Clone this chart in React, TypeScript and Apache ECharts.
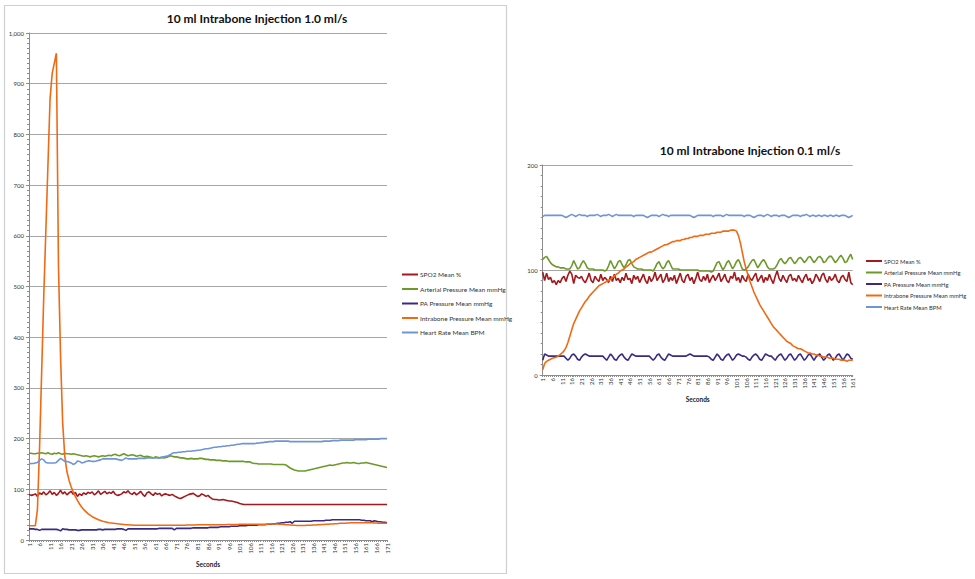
import React, { useEffect, useRef } from "react";
import * as echarts from "echarts";

const SERIES_NAMES = [
  "SPO2 Mean %",
  "Arterial Pressure Mean mmHg",
  "PA Pressure Mean mmHg",
  "Intrabone Pressure Mean mmHg",
  "Heart Rate Mean BPM",
];
const COLORS = ["#A3191E", "#6C9A2A", "#3A2A85", "#F06A13", "#6F95D8"];

const LEFT_TITLE = "10 ml Intrabone Injection 1.0 ml/s";
const RIGHT_TITLE = "10 ml Intrabone Injection 0.1 ml/s";
const X_NAME = "Seconds";

const LEFT_CATS = Array.from({ length: 171 }, (_, i) => String(i + 1));
const RIGHT_CATS = Array.from({ length: 161 }, (_, i) => String(i + 1));

const LEFT_Y = { min: 0, max: 1000, interval: 100 };
const RIGHT_Y = { min: 0, max: 200, interval: 100 };

// ---- Left chart (1.0 ml/s), 171 seconds ----
const L_SPO2 = [
  90, 88, 89, 91, 86, 93, 90, 95, 89, 92,
  97, 90, 94, 88, 92, 98, 91, 95, 89, 93,
  96, 90, 94, 86, 91, 88, 93, 90, 94, 92,
  95, 89, 92, 97, 90, 93, 96, 91, 94, 92,
  96, 90, 88, 89, 91, 95, 93, 97, 92, 90,
  94, 89, 92, 96, 90, 86, 93, 95, 91, 88,
  93, 90, 92, 87, 90, 91, 89, 88, 90, 87,
  85, 83, 82, 84, 86, 88, 90, 91, 92, 89,
  86, 87, 91, 89, 86, 88, 84, 81, 80, 80,
  79, 79, 80, 79, 78, 77, 77, 76, 75, 74,
  72, 71, 70, 70, 70, 70, 70, 70, 70, 70,
  70, 70, 70, 70, 70, 70, 70, 70, 70, 70,
  70, 70, 70, 70, 70, 70, 70, 70, 70, 70,
  70, 70, 70, 70, 70, 70, 70, 70, 70, 70,
  70, 70, 70, 70, 70, 70, 70, 70, 70, 70,
  70, 70, 70, 70, 70, 70, 70, 70, 70, 70,
  70, 70, 70, 70, 70, 70, 70, 70, 70, 70, 70,
];

const L_ART = [
  171, 171, 170, 170, 171, 171, 172, 171, 170, 172,
  170, 169, 171, 170, 172, 170, 169, 171, 170, 170,
  169, 170, 169, 168, 167, 166, 165, 166, 165, 164,
  165, 166, 165, 164, 165, 166, 165, 166, 167, 166,
  168, 169, 167, 166, 168, 170, 168, 166, 167, 168,
  167, 165, 166, 167, 165, 164, 165, 164, 163, 162,
  164, 163, 162, 163, 162, 163, 164, 166, 165, 164,
  164, 163, 162, 162, 161, 160, 160, 161, 160, 160,
  160, 161, 161, 160, 159, 159, 158, 158, 158, 157,
  157, 157, 156, 156, 156, 155, 155, 155, 155, 155,
  155, 155, 155, 154, 154, 154, 152, 151, 151, 150,
  150, 150, 150, 150, 150, 150, 149, 149, 149, 149,
  149, 149, 148, 145, 142, 140, 138, 137, 136, 136,
  136, 136, 137, 138, 139, 140, 141, 142, 143, 144,
  145, 146, 147, 148, 147, 148, 149, 150, 151, 152,
  152, 153, 152, 152, 153, 152, 151, 151, 152, 152,
  153, 152, 151, 150, 149, 148, 147, 146, 145, 144, 143,
];

const L_PA = [
  22, 22, 22, 21, 21, 19, 21, 21, 21, 21,
  21, 21, 21, 21, 20, 18, 22, 21, 21, 20,
  20, 20, 20, 19, 19, 20, 20, 20, 20, 20,
  20, 20, 20, 21, 21, 20, 21, 21, 21, 21,
  21, 21, 22, 22, 22, 21, 19, 22, 22, 22,
  22, 22, 22, 22, 22, 22, 22, 22, 22, 22,
  22, 22, 23, 23, 23, 23, 23, 23, 23, 20,
  23, 23, 23, 23, 23, 23, 23, 23, 24, 24,
  24, 24, 24, 24, 24, 24, 25, 25, 25, 25,
  25, 26, 26, 26, 26, 26, 27, 27, 27, 27,
  28, 28, 28, 28, 29, 29, 29, 29, 29, 30,
  30, 30, 30, 31, 31, 31, 32, 32, 33, 33,
  34, 34, 35, 35, 36, 33, 37, 37, 37, 37,
  37, 37, 37, 37, 37, 38, 38, 38, 38, 38,
  38, 39, 39, 39, 40, 40, 40, 40, 40, 40,
  40, 40, 40, 40, 40, 40, 40, 40, 39, 39,
  38, 38, 38, 36, 38, 37, 36, 36, 35, 35, 34,
];

const L_IB = [
  28, 28, 28, 28, 60, 180, 330, 480, 610, 740,
  870, 920, 940, 960, 540, 360, 230, 165, 135, 118,
  105, 95, 86, 78, 71, 65, 60, 56, 52, 49,
  46, 44, 42, 40, 38.5, 37, 36, 35, 34, 33.5,
  33, 32.5, 32, 31.5, 31, 30.5, 30, 30, 29.5, 29.5,
  29, 29, 29, 29, 29, 29, 29, 29, 29, 29,
  29, 29, 29, 29, 29, 29, 29, 29, 29, 29,
  29, 29, 29, 29, 29, 29.5, 29.5, 29.5, 29.5, 29.5,
  30, 30, 30, 30, 30, 30, 30, 30, 30, 30,
  30, 30, 30, 30, 30.5, 30.5, 30.5, 30.5, 30.5, 30.5,
  31, 31, 31, 31, 31, 31, 31, 31, 31, 31,
  31, 31, 31, 31, 31.5, 31.5, 31.5, 31.5, 31.5, 31,
  31, 30.5, 30, 30, 29.5, 29, 29, 28.5, 28.5, 28.5,
  28.5, 28.5, 29, 29, 29, 29.5, 29.5, 30, 30, 30.5,
  30.5, 31, 31, 31.5, 31.5, 32, 32, 32.5, 33, 33,
  33, 33.5, 33.5, 34, 34, 34, 34, 34, 34, 34,
  34, 34, 34, 34, 33.5, 33.5, 33, 33, 33, 33, 33,
];

const L_HR = [
  150, 151, 151, 152, 153, 157, 160, 158, 153, 152,
  152, 152, 152, 153, 157, 161, 158, 155, 155, 154,
  152, 149, 151, 156, 155, 152, 153, 155, 156, 156,
  155, 155, 156, 157, 158, 160, 160, 160, 160, 160,
  160, 160, 159, 158, 157, 159, 162, 160, 160, 160,
  160, 160, 161, 161, 161, 161, 162, 162, 162, 162,
  162, 162, 162, 163, 164, 165, 166, 168, 171, 172,
  172, 173, 173, 174, 174, 175, 175, 175, 176, 176,
  177, 177, 178, 179, 180, 180, 181, 182, 183, 183,
  184, 184, 185, 185, 186, 186, 187, 187, 188, 189,
  189, 190, 190, 190, 190, 190, 190, 190, 191, 191,
  192, 192, 193, 193, 194, 194, 194, 195, 195, 195,
  195, 195, 195, 195, 194, 194, 194, 194, 194, 194,
  194, 194, 194, 194, 194, 194, 194, 194, 194, 194,
  195, 195, 195, 195, 196, 196, 196, 196, 197, 197,
  197, 197, 197, 197, 197, 198, 198, 198, 198, 198,
  198, 199, 199, 199, 199, 199, 199, 200, 200, 200, 200,
];

// ---- Right chart (0.1 ml/s), 161 seconds ----
const R_SPO2 = [
  98, 90, 97, 91, 93, 88, 90, 86, 90, 88,
  92, 94, 89, 95, 99, 96, 87, 95, 93, 92,
  94, 90, 88, 92, 97, 90, 88, 94, 91, 89,
  96, 90, 93, 91, 88, 94, 89, 96, 90, 92,
  88, 93, 90, 97, 91, 92, 87, 95, 91, 94,
  88, 92, 96, 90, 87, 94, 89, 92, 98, 90,
  93, 96, 88, 91, 97, 89, 93, 90, 95, 87,
  92, 97, 90, 88, 94, 96, 90, 93, 87, 92,
  98, 91, 89, 94, 90, 96, 88, 92, 95, 90,
  93, 97, 89, 92, 96, 90, 88, 94, 92, 98,
  90, 93, 88, 95, 91, 89, 96, 92, 90, 94,
  97, 89, 92, 95, 88, 93, 90, 96, 91, 87,
  94, 99, 92, 89, 95, 91, 88, 94, 96, 90,
  92, 89, 95, 91, 88, 93, 96, 90, 92, 87,
  90, 96, 93, 89, 95, 97, 91, 88, 94, 90,
  92, 96, 90, 88, 93, 95, 91, 89, 98, 88,
  86,
];

const R_ART = [
  110, 112, 113, 110, 107, 105, 104, 103, 103, 102,
  102, 102, 101, 101, 101, 104, 109, 105, 101, 102,
  106, 109, 106, 102, 101, 101, 101, 100, 100, 100,
  100, 100, 99, 100, 104, 109, 105, 101, 104, 108,
  109, 105, 102, 105, 109, 110, 106, 103, 102, 101,
  101, 101, 100, 100, 100, 100, 100, 99, 102, 106,
  108, 104, 101, 103, 107, 109, 105, 101, 101, 101,
  101, 100, 100, 100, 100, 100, 100, 100, 100, 100,
  100, 99, 99, 99, 99, 99, 99, 98, 99, 103,
  107, 108, 104, 100, 103, 107, 109, 105, 101, 104,
  108, 110, 106, 101, 100, 101, 103, 106, 109, 110,
  106, 102, 105, 108, 110, 107, 103, 101, 101, 101,
  102, 105, 109, 111, 108, 106, 108, 111, 112, 109,
  106, 108, 111, 112, 110, 107, 109, 112, 113, 110,
  107, 109, 112, 113, 111, 107, 108, 111, 113, 113,
  110, 107, 109, 112, 114, 111, 107, 108, 112, 115,
  110,
];

const R_PA = [
  14, 20, 19, 18, 18, 18, 18, 18, 18, 18,
  18, 18, 16, 14, 16, 19, 20, 18, 15, 14,
  17, 19, 20, 19, 18, 18, 18, 18, 18, 18,
  18, 18, 16, 14, 17, 20, 18, 15, 14, 17,
  19, 20, 17, 15, 14, 17, 20, 19, 18, 18,
  18, 18, 18, 18, 18, 18, 16, 14, 16, 19,
  20, 17, 15, 14, 17, 20, 19, 18, 18, 18,
  18, 18, 18, 18, 18, 19, 20, 19, 18, 18,
  18, 18, 18, 18, 18, 18, 17, 15, 14, 17,
  20, 18, 15, 14, 17, 19, 20, 17, 14, 16,
  19, 20, 19, 18, 18, 17, 15, 14, 17, 19,
  20, 18, 15, 14, 17, 20, 19, 18, 18, 16,
  14, 17, 19, 20, 17, 14, 16, 19, 20, 17,
  14, 16, 19, 20, 17, 14, 16, 19, 20, 17,
  14, 17, 19, 20, 17, 14, 16, 19, 20, 17,
  14, 16, 19, 20, 17, 14, 17, 20, 19, 16,
  15,
];

const R_IB = [
  5, 11, 13, 14, 15, 16, 16.5, 17, 18, 19.5,
  21, 23, 26, 31, 37, 43, 49, 53, 57, 61,
  64, 67, 70, 72, 75, 77, 79, 81, 83, 85,
  86, 87, 88, 89, 90, 91, 93, 94, 96, 97,
  99, 100, 101, 103, 104, 106, 107, 108, 110, 111,
  112, 113, 114, 115, 116, 117, 117, 118, 119, 120,
  121, 122, 123, 124, 124, 125, 126, 127, 127, 128,
  128, 128, 129, 129, 130, 130, 131, 131, 132, 132,
  132, 133, 133, 133, 134, 134, 134, 135, 135, 135,
  136, 136, 136, 137, 137, 137, 137, 138, 138, 138,
  137, 133, 126, 117, 108, 101, 95, 89, 84, 79,
  75, 71, 67, 64, 61, 58, 55, 52, 49, 46,
  44, 42, 40, 38, 36, 34, 32, 31, 30, 28,
  27, 26, 25, 25, 24, 23, 22, 21, 21, 20,
  20, 19, 19, 18, 18, 17, 17, 17, 16, 16,
  16, 15, 15, 15, 14, 14, 14, 13, 14, 14,
  14,
];

const R_HR = [
  151, 152, 152, 152, 152, 152, 152, 152, 152, 152,
  152, 151, 150, 151, 152, 153, 152, 151, 152, 153,
  152, 152, 152, 151, 152, 152, 152, 152, 153, 152,
  151, 152, 152, 152, 153, 152, 151, 152, 153, 152,
  152, 152, 152, 152, 152, 152, 152, 151, 152, 152,
  152, 152, 152, 151, 150, 151, 152, 152, 152, 152,
  151, 152, 153, 152, 152, 151, 152, 152, 152, 152,
  152, 152, 152, 152, 152, 152, 152, 151, 150, 151,
  152, 152, 152, 152, 152, 152, 152, 152, 151, 152,
  152, 152, 152, 151, 152, 153, 152, 152, 152, 152,
  152, 152, 152, 152, 151, 152, 152, 152, 151, 150,
  151, 152, 152, 152, 151, 152, 153, 152, 151, 152,
  152, 152, 151, 152, 152, 152, 151, 150, 151, 152,
  152, 152, 152, 151, 152, 152, 153, 152, 151, 152,
  152, 151, 152, 152, 151, 152, 152, 151, 152, 152,
  151, 152, 152, 151, 152, 152, 152, 151, 150, 151,
  152,
];

const LEFT_DATA = [L_SPO2, L_ART, L_PA, L_IB, L_HR];
const RIGHT_DATA = [R_SPO2, R_ART, R_PA, R_IB, R_HR];

const FONT = "Lato, 'Open Sans', sans-serif";
const AXIS_COLOR = "#8c8c8c";
const GRID_COLOR = "#a6a6a6";
const LABEL_COLOR = "#333";

function xAxisFor(gridIndex: number, cats: string[], nameGap: number) {
  return {
    type: "category",
    gridIndex,
    data: cats,
    boundaryGap: false,
    name: X_NAME,
    nameLocation: "middle",
    nameGap,
    nameTextStyle: { fontFamily: FONT, fontSize: 6.5, fontWeight: "bold", color: "#222" },
    axisLine: { show: true, lineStyle: { color: AXIS_COLOR, width: 1 } },
    axisTick: { show: true, interval: 0, length: 2, lineStyle: { color: AXIS_COLOR } },
    axisLabel: {
      interval: 4,
      rotate: 90,
      fontSize: 6,
      fontFamily: FONT,
      color: LABEL_COLOR,
      margin: 3,
    },
    splitLine: { show: false },
  };
}

function yAxisFor(gridIndex: number, cfg: { min: number; max: number; interval: number }) {
  return {
    type: "value",
    gridIndex,
    min: cfg.min,
    max: cfg.max,
    interval: cfg.interval,
    axisLine: { show: true, lineStyle: { color: AXIS_COLOR, width: 1 } },
    axisTick: { show: true, length: 3, lineStyle: { color: AXIS_COLOR } },
    minorTick: { show: true, splitNumber: 10, length: 2, lineStyle: { color: AXIS_COLOR } },
    minorSplitLine: { show: false },
    axisLabel: { fontSize: 6, fontFamily: FONT, color: LABEL_COLOR, margin: 5 },
    splitLine: { show: true, lineStyle: { color: GRID_COLOR, width: 1 } },
  };
}

function legendFor(left: number, top: number, itemGap: number, fontSize: number) {
  return {
    orient: "vertical",
    left,
    top,
    itemWidth: 16,
    itemHeight: 2,
    itemGap,
    icon: "rect",
    data: SERIES_NAMES,
    textStyle: { fontSize, fontFamily: FONT, color: "#333", padding: [0, 0, 0, -3] },
    selectedMode: false,
  };
}

export default function App() {
  const ref = useRef<HTMLDivElement>(null);

  useEffect(() => {
    if (!ref.current) return;
    const chart = echarts.init(ref.current, undefined, { renderer: "svg" });

    const series: any[] = [];
    SERIES_NAMES.forEach((name, i) => {
      series.push({
        name,
        type: "line",
        xAxisIndex: 0,
        yAxisIndex: 0,
        data: LEFT_DATA[i],
        symbol: "none",
        lineStyle: { color: COLORS[i], width: 1.6 },
        itemStyle: { color: COLORS[i] },
      });
    });
    SERIES_NAMES.forEach((name, i) => {
      series.push({
        name,
        type: "line",
        xAxisIndex: 1,
        yAxisIndex: 1,
        data: RIGHT_DATA[i],
        symbol: "none",
        lineStyle: { color: COLORS[i], width: 1.6 },
        itemStyle: { color: COLORS[i] },
      });
    });

    chart.setOption({
      animation: false,
      backgroundColor: "#ffffff",
      textStyle: { fontFamily: FONT },
      graphic: [
        {
          type: "rect",
          shape: { x: 4.5, y: 5.5, width: 502, height: 568 },
          style: { fill: "none", stroke: "#cfcfcf", lineWidth: 1.2 },
          silent: true,
          z: -10,
        },
        {
          type: "text",
          x: 257,
          y: 18,
          style: {
            text: LEFT_TITLE,
            font: `bold 12px ${FONT}`,
            fill: "#111",
            textAlign: "center",
            textVerticalAlign: "middle",
          },
        },
        {
          type: "text",
          x: 750,
          y: 150,
          style: {
            text: RIGHT_TITLE,
            font: `bold 12px ${FONT}`,
            fill: "#111",
            textAlign: "center",
            textVerticalAlign: "middle",
          },
        },
      ],
      grid: [
        { left: 29, top: 33, width: 358, height: 507, outerBoundsMode: "none", containLabel: false },
        { left: 542.7, top: 165, width: 310, height: 210, outerBoundsMode: "none", containLabel: false },
      ],
      xAxis: [xAxisFor(0, LEFT_CATS, 20), xAxisFor(1, RIGHT_CATS, 21)],
      yAxis: [yAxisFor(0, LEFT_Y), yAxisFor(1, RIGHT_Y)],
      legend: [legendFor(397, 266, 7.5, 6.5), legendFor(861, 253, 5.5, 5.8)],
      series,
    });

    return () => chart.dispose();
  }, []);

  return (
    <div
      ref={ref}
      style={{ position: "fixed", left: 0, top: 0, width: 975, height: 579, background: "#fff" }}
    />
  );
}
